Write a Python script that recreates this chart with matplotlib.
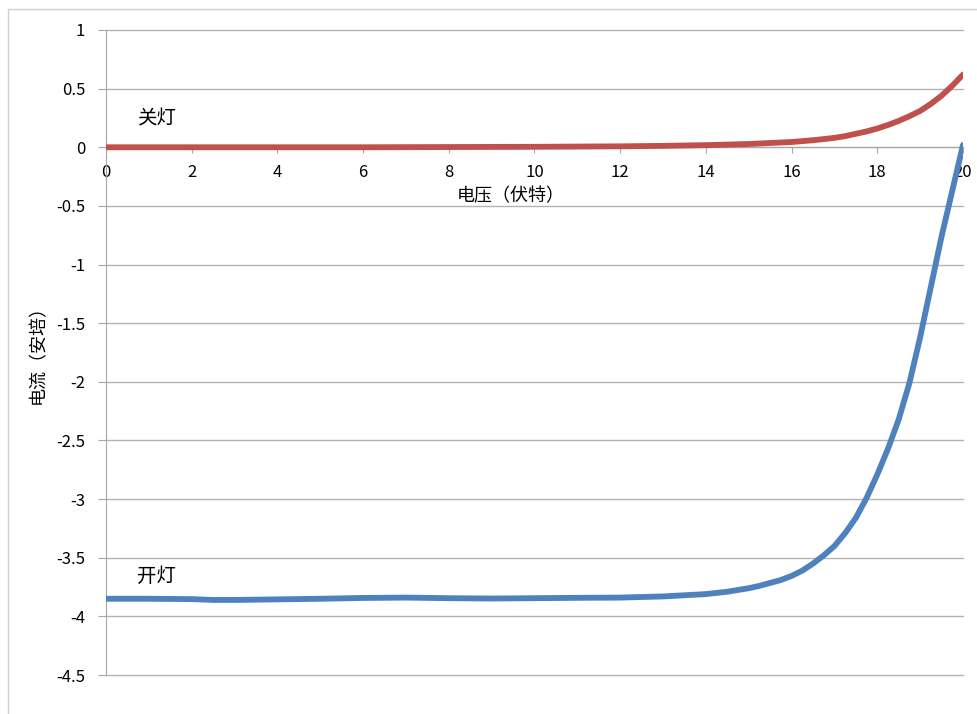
import matplotlib.pyplot as plt
from matplotlib.patches import Rectangle

plt.rcParams['font.family'] = ['Noto Sans CJK SC', 'DejaVu Sans']

# voltage (V) and current (A)
v_off = [0, 2, 4, 6, 8, 9, 10, 11, 12, 13, 14, 15, 16, 16.5, 17, 17.25, 17.5, 17.75, 18, 18.25, 18.5,
         18.75, 19, 19.25, 19.5, 19.75, 20]
i_off = [0, 0, 0, 0, 0.002, 0.003, 0.004, 0.006, 0.008, 0.012, 0.018, 0.028, 0.045, 0.06, 0.08, 0.095,
         0.115, 0.135, 0.16, 0.19, 0.225, 0.265, 0.31, 0.37, 0.44, 0.525, 0.62]

v_on = [0, 1, 2, 2.5, 3, 4, 5, 6, 7, 8, 9, 10, 11, 12, 13, 14, 14.5, 15, 15.25, 15.5, 15.75, 16, 16.25,
        16.5, 16.75, 17, 17.25, 17.5, 17.75, 18, 18.25, 18.5, 18.75, 19, 19.25, 19.5, 19.75, 20]
i_on = [-3.85, -3.85, -3.853, -3.86, -3.86, -3.855, -3.85, -3.843, -3.84, -3.845, -3.848, -3.845,
        -3.842, -3.84, -3.83, -3.81, -3.79, -3.76, -3.74, -3.715, -3.69, -3.655, -3.61,
        -3.55, -3.48, -3.40, -3.29, -3.16, -2.99, -2.79, -2.57, -2.32, -2.01, -1.62, -1.19,
        -0.76, -0.37, 0.02]

x_ticks = list(range(0, 21, 2))
y_ticks = [1, 0.5, 0, -0.5, -1, -1.5, -2, -2.5, -3, -3.5, -4, -4.5]
y_labels = ['1', '0.5', '0', '-0.5', '-1', '-1.5', '-2', '-2.5', '-3', '-3.5', '-4', '-4.5']

fig = plt.figure(figsize=(9.78, 7.14), dpi=100)
fig.patches.append(Rectangle((8 / 978, -0.1), 1.2, 1 - 9 / 714 + 0.1, transform=fig.transFigure,
                             fill=False, edgecolor='#d0d0d0', linewidth=1))
ax = fig.add_axes([106 / 978, 1 - 675 / 714, (963 - 106) / 978, (675 - 30) / 714])

ax.plot(v_off, i_off, color='#c0504d', linewidth=4.2, solid_capstyle='round', zorder=3)
ax.plot(v_on, i_on, color='#4f81bd', linewidth=4.2, solid_capstyle='round', zorder=3)

ax.set_xlim(0, 20)
ax.set_ylim(-4.5, 1)
ax.set_yticks(y_ticks)
ax.set_yticklabels(y_labels)
ax.set_xticks(x_ticks)
ax.grid(axis='y', color='#b3b3b3', linewidth=1)
for gl in ax.get_ygridlines():
    gl.set_clip_on(False)
ax.set_axisbelow(True)

for s in ['top', 'right']:
    ax.spines[s].set_visible(False)
ax.spines['left'].set_color('#a6a6a6')
ax.spines['bottom'].set_color('#a6a6a6')
ax.spines['bottom'].set_position(('data', 0))
ax.tick_params(axis='x', direction='out', length=4, color='#a6a6a6', labelsize=12, pad=8)
ax.tick_params(axis='y', direction='out', length=6, color='#a6a6a6', labelsize=12, pad=9)

ax.text(9.45, -0.42, '电压（伏特）', ha='center', va='center', fontsize=13)
fig.text(38 / 978, 1 - 350 / 714, '电流（安培）', rotation=90, ha='center', va='center', fontsize=13)
ax.text(0.72, 0.24, '关灯', ha='left', va='center', fontsize=14)
ax.text(0.72, -3.66, '开灯', ha='left', va='center', fontsize=14)

plt.savefig('out.png', dpi=100)
